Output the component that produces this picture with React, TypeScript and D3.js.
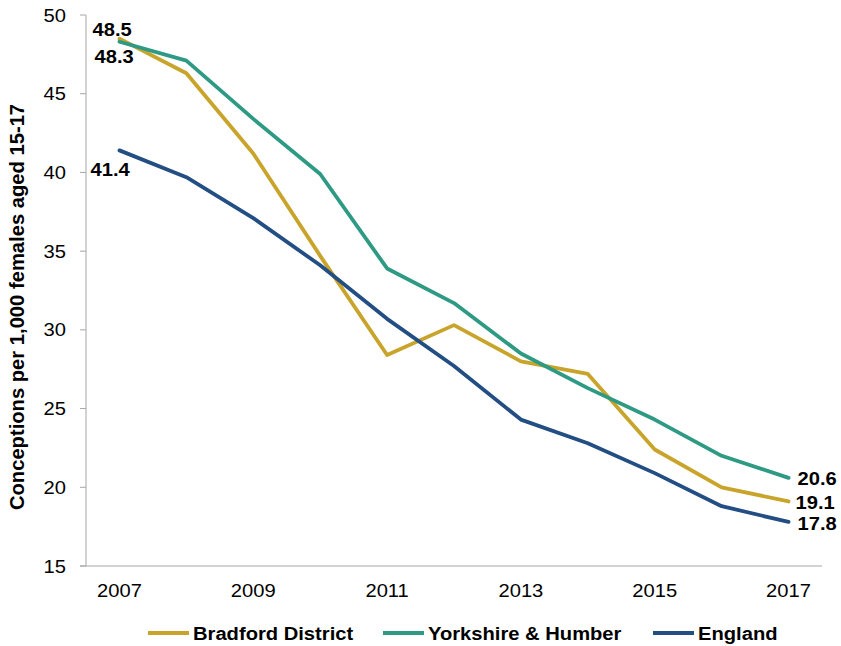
import React from "react";
import * as d3 from "d3";

const years = ["2007","2008","2009","2010","2011","2012","2013","2014","2015","2016","2017"];
const bradford = [48.5, 46.3, 41.2, 34.7, 28.4, 30.3, 28.0, 27.2, 22.4, 20.0, 19.1];
const yorkshire = [48.3, 47.1, 43.4, 39.9, 33.9, 31.7, 28.5, 26.3, 24.3, 22.0, 20.6];
const england = [41.4, 39.7, 37.1, 34.1, 30.7, 27.7, 24.3, 22.8, 20.9, 18.8, 17.8];
const seriesNames = ["Bradford District", "Yorkshire & Humber", "England"];
const yTicks = [15, 20, 25, 30, 35, 40, 45, 50];
const xTickLabels = ["2007", "2009", "2011", "2013", "2015", "2017"];
const yTitle = "Conceptions per 1,000 females aged 15-17";

const colors = ["#C9A42B", "#2E9A83", "#224E84"];

const SX = 1.09;

function T(props: { x: number; y: number; anchor?: string; size?: number; bold?: boolean; children: any }) {
  const { x, y, anchor = "start", size = 18.5, bold = false, children } = props;
  return (
    <text
      transform={`translate(${x},${y}) scale(${SX},1)`}
      textAnchor={anchor}
      fontSize={size}
      fontWeight={bold ? "bold" : "normal"}
      fill="#000"
    >
      {children}
    </text>
  );
}

export default function App() {
  const W = 841, H = 646;
  const x0 = 86, x1 = 822, yTop = 15, yBot = 566;
  const x = d3.scaleBand<string>().domain(years).range([x0, x1]);
  const cx = (yr: string) => (x(yr) as number) + x.bandwidth() / 2;
  const y = d3.scaleLinear().domain([15, 50]).range([yBot, yTop]);
  const data = [bradford, yorkshire, england];
  const line = d3.line<number>().x((_, i) => cx(years[i])).y((d) => y(d));
  const font = "Liberation Sans, Arial, sans-serif";
  const last = years.length - 1;
  const lastX = cx(years[last]);
  const firstX = cx(years[0]);

  const legendItems = [
    { lx: 148, name: seriesNames[0], c: colors[0] },
    { lx: 383, name: seriesNames[1], c: colors[1] },
    { lx: 653, name: seriesNames[2], c: colors[2] },
  ];

  return (
    <svg width={W} height={H} style={{ position: "absolute", left: 0, top: 0, background: "#fff" }} fontFamily={font}>
      {/* y axis */}
      <line x1={x0} x2={x0} y1={yTop} y2={yBot} stroke="#A6A6A6" strokeWidth={1} />
      {yTicks.map((t) => (
        <g key={t}>
          <line x1={x0 - 6} x2={x0} y1={y(t)} y2={y(t)} stroke="#A6A6A6" />
          <T x={66} y={y(t) + 6.5} anchor="end">{t}</T>
        </g>
      ))}
      {/* x axis */}
      <line x1={x0 - 6} x2={x1} y1={yBot} y2={yBot} stroke="#A6A6A6" strokeWidth={1} />
      {xTickLabels.map((t) => (
        <T key={t} x={cx(t)} y={597} anchor="middle">{t}</T>
      ))}
      <text transform={`translate(24,307) rotate(-90)`} textAnchor="middle" fontSize={20.2} fontWeight="bold" fill="#000">{yTitle}</text>
      {data.map((s, i) => (
        <path key={i} d={line(s) || ""} fill="none" stroke={colors[i]} strokeWidth={3.8} strokeLinejoin="round" strokeLinecap="round" />
      ))}
      {/* data labels */}
      <T x={firstX - 27} y={y(bradford[0]) - 3} bold>{bradford[0].toFixed(1)}</T>
      <T x={firstX - 25} y={y(yorkshire[0]) + 21} bold>{yorkshire[0].toFixed(1)}</T>
      <T x={firstX - 29} y={y(england[0]) + 26} bold>{england[0].toFixed(1)}</T>
      <T x={lastX + 9} y={y(yorkshire[last]) + 7} bold>{yorkshire[last].toFixed(1)}</T>
      <T x={lastX + 7} y={y(bradford[last]) + 8} bold>{bradford[last].toFixed(1)}</T>
      <T x={lastX + 9} y={y(england[last]) + 8} bold>{england[last].toFixed(1)}</T>
      {/* legend */}
      {legendItems.map((it) => (
        <g key={it.name}>
          <line x1={it.lx} x2={it.lx + 41} y1={633} y2={633} stroke={it.c} strokeWidth={3.8} />
          <T x={it.lx + 45} y={640} bold>{it.name}</T>
        </g>
      ))}
    </svg>
  );
}
